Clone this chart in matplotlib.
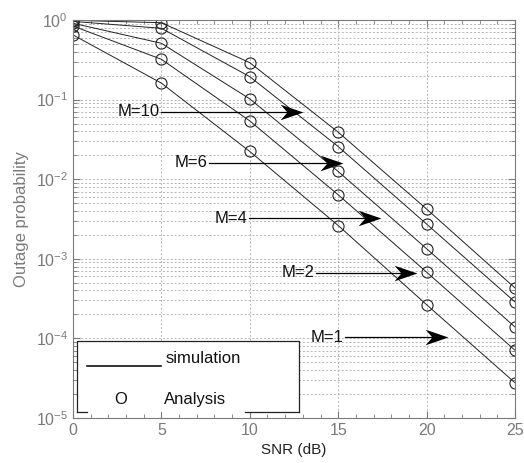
import matplotlib
matplotlib.use("Agg")
import matplotlib.pyplot as plt
import matplotlib.ticker as ticker
from matplotlib.patches import Rectangle
from matplotlib.path import Path

plt.rcParams['font.family'] = ['Liberation Sans', 'DejaVu Sans']
plt.rcParams['mathtext.fontset'] = 'custom'
plt.rcParams['mathtext.rm'] = 'Liberation Sans'
plt.rcParams['mathtext.it'] = 'Liberation Sans'

snr = [0, 5, 10, 15, 20, 25]
# outage probability, top curve to bottom curve
p_m10 = [0.99, 0.925, 0.291, 0.039, 0.00422, 0.00043]
p_m6 = [0.96, 0.787, 0.194, 0.0257, 0.00273, 0.000287]
p_m4 = [0.91, 0.51, 0.102, 0.0125, 0.00134, 0.000139]
p_m2 = [0.84, 0.321, 0.054, 0.00637, 0.00068, 7.1e-5]
p_m1 = [0.65, 0.161, 0.0223, 0.00262, 0.000265, 2.77e-5]
curves = [p_m10, p_m6, p_m4, p_m2, p_m1]

# labels: text, text right end x, arrow end x, y
labels = ["M=10", "M=6", "M=4", "M=2", "M=1"]
label_x = [4.9, 7.6, 9.85, 13.65, 15.3]
arrow_x = [13.0, 15.3, 17.4, 19.45, 21.2]
label_y = [0.07, 0.0161, 0.00323, 6.64e-4, 1.03e-4]

# notched arrow head, tip at origin
head = Path([(0, 0), (-1, 0.34), (-0.7, 0), (-1, -0.34), (0, 0)],
            [Path.MOVETO, Path.LINETO, Path.LINETO, Path.LINETO, Path.CLOSEPOLY])

gray = '#7a7a7a'
fig = plt.figure(figsize=(5.24, 4.63), dpi=100)
ax = fig.add_axes([0.1393, 0.0972, 0.8435, 0.8596])

for p in curves:
    ax.semilogy(snr, p, '-', color='#222222', lw=0.7)
    ax.semilogy(snr, p, 'o', mfc='none', mec='#222222', mew=0.8, ms=8)

ax.set_xlim(0, 25)
ax.set_ylim(1e-5, 1)
ax.xaxis.set_major_locator(ticker.MultipleLocator(5))
ax.xaxis.set_minor_locator(ticker.MultipleLocator(1))
ax.yaxis.set_major_locator(ticker.LogLocator(base=10, numticks=10))
ax.yaxis.set_minor_locator(ticker.LogLocator(base=10, subs=range(2, 10), numticks=10))
ax.yaxis.set_minor_formatter(ticker.NullFormatter())

ax.grid(True, which='major', axis='both', color='#b5b5b5', ls=(0, (2, 2)), lw=0.7)
ax.grid(True, which='minor', axis='y', color='#b5b5b5', ls=(0, (2, 2)), lw=0.7)
ax.set_axisbelow(True)

ax.tick_params(which='both', direction='in', top=True, right=True, colors=gray,
               labelcolor=gray, labelsize=11.5)
ax.tick_params(which='major', length=5)
ax.tick_params(which='minor', length=3)
for s in ax.spines.values():
    s.set_color(gray)

ax.set_xlabel('SNR (dB)', fontsize=11, color='#222222', labelpad=4)
ax.set_ylabel('Outage probability', fontsize=12, color=gray, labelpad=5)

for txt, lx, ax_end, ly in zip(labels, label_x, arrow_x, label_y):
    ax.text(lx, ly, txt, ha='right', va='center', fontsize=12, color='#111111')
    ax.plot([lx + 0.1, ax_end - 0.4], [ly, ly], color='black', lw=0.9)
    ax.plot([ax_end], [ly], marker=head, ms=33, color='black', mew=0, ls='none')

# legend box drawn by hand
tr = ax.transAxes
x0, x1 = (77.3 - 73) / 442, (299 - 73) / 442
y0, y1 = (418 - 411.7) / 398, (418 - 341) / 398
ax.add_patch(Rectangle((x0, y0), x1 - x0, y1 - y0, transform=tr,
                       facecolor='white', edgecolor='none', zorder=5))
ek = dict(transform=tr, color='#222222', lw=0.9, zorder=6)
ax.plot([x0, x0, x1, x1], [y0, y1, y1, y0], **ek)
ax.plot([x0, (86.7 - 73) / 442], [y0, y0], **ek)
ax.plot([(245 - 73) / 442, x1], [y0, y0], **ek)
ax.plot([(87 - 73) / 442, (161 - 73) / 442], [(418 - 365.7) / 398] * 2,
        transform=tr, color='#111111', lw=1.2, zorder=6)
ax.text((166 - 73) / 442, (418 - 359) / 398, 'simulation', transform=tr,
        ha='left', va='center', fontsize=12, color='#111111', zorder=7)
ax.text((120.7 - 73) / 442, (418 - 400) / 398, 'O', transform=tr,
        ha='center', va='center', fontsize=12, color='#111111', zorder=7)
ax.text((164 - 73) / 442, (418 - 400) / 398, 'Analysis', transform=tr,
        ha='left', va='center', fontsize=12, color='#111111', zorder=7)

fig.savefig('out.png', dpi=100)
